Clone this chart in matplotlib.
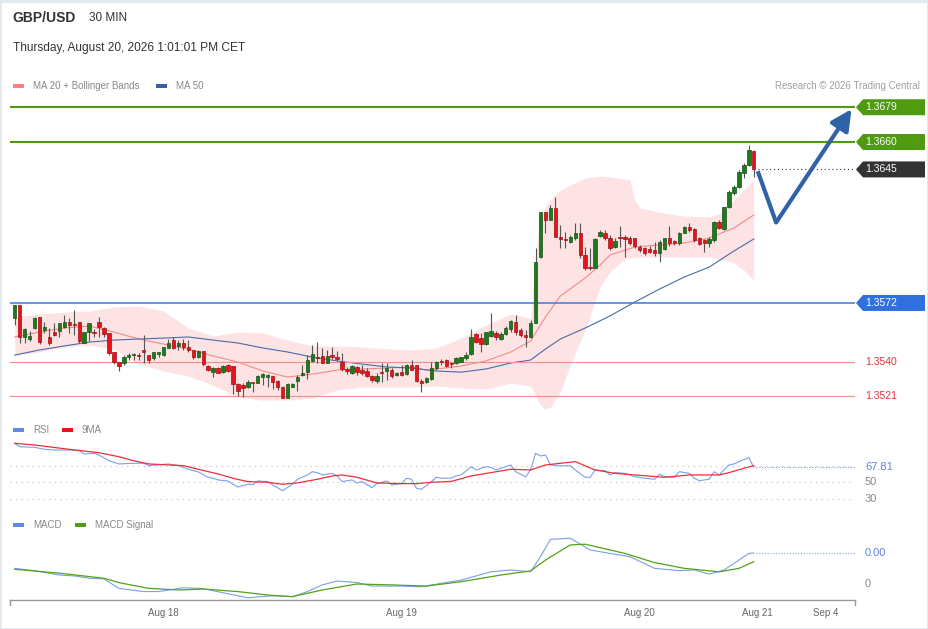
import numpy as np
import matplotlib
matplotlib.use("Agg")
import matplotlib.pyplot as plt
from matplotlib.patches import Polygon, Rectangle
from matplotlib import transforms

plt.rcParams['font.family'] = ['Liberation Sans', 'DejaVu Sans']

# --- candles (30 min), index 0 .. 149
opens = [
    1.35637, 1.35709, 1.35534, 1.35523, 1.35583, 1.35643, 1.35572, 1.35534, 1.35561, 1.35567,
    1.35589, 1.35616, 1.35605, 1.35616, 1.35501, 1.35561, 1.35561, 1.35616, 1.35583, 1.35556,
    1.35452, 1.35397, 1.35392, 1.35424, 1.35435, 1.35435, 1.35463, 1.35435, 1.35419, 1.35441,
    1.35435, 1.35474, 1.35517, 1.35485, 1.35501, 1.35479, 1.35463, 1.35424, 1.35457, 1.35375,
    1.35342, 1.35364, 1.35342, 1.35381, 1.35375, 1.35277, 1.35271, 1.35260, 1.35288, 1.35282,
    1.35315, 1.35315, 1.35320, 1.35293, 1.35260, 1.35200, 1.35260, 1.35293, 1.35326, 1.35342,
    1.35403, 1.35424, 1.35430, 1.35392, 1.35435, 1.35424, 1.35397, 1.35359, 1.35337, 1.35370,
    1.35353, 1.35348, 1.35320, 1.35293, 1.35342, 1.35348, 1.35353, 1.35326, 1.35342, 1.35331,
    1.35381, 1.35381, 1.35293, 1.35288, 1.35304, 1.35364, 1.35403, 1.35408, 1.35392, 1.35392,
    1.35397, 1.35419, 1.35441, 1.35550, 1.35528, 1.35495, 1.35539, 1.35556, 1.35523, 1.35550,
    1.35578, 1.35616, 1.35572, 1.35545, 1.35534, 1.35611, 1.35971, 1.36217, 1.36173, 1.36239,
    1.36081, 1.36070, 1.36053, 1.36075, 1.36103, 1.35982, 1.35916, 1.35911, 1.36086, 1.36103,
    1.36075, 1.36026, 1.36081, 1.36081, 1.36075, 1.36075, 1.36026, 1.36020, 1.36015, 1.36009,
    1.35993, 1.36015, 1.36075, 1.36059, 1.36048, 1.36103, 1.36135, 1.36124, 1.36075, 1.36064,
    1.36048, 1.36064, 1.36162, 1.36124, 1.36245, 1.36321, 1.36354, 1.36430, 1.36474, 1.36551,
]
highs = [
    1.35709, 1.35709, 1.35583, 1.35567, 1.35643, 1.35643, 1.35616, 1.35583, 1.35611, 1.35611,
    1.35654, 1.35637, 1.35681, 1.35616, 1.35561, 1.35611, 1.35578, 1.35643, 1.35589, 1.35556,
    1.35452, 1.35397, 1.35435, 1.35446, 1.35446, 1.35446, 1.35545, 1.35435, 1.35452, 1.35452,
    1.35479, 1.35523, 1.35534, 1.35517, 1.35523, 1.35517, 1.35463, 1.35463, 1.35457, 1.35381,
    1.35370, 1.35370, 1.35381, 1.35386, 1.35375, 1.35282, 1.35282, 1.35299, 1.35288, 1.35326,
    1.35337, 1.35331, 1.35320, 1.35299, 1.35266, 1.35282, 1.35282, 1.35326, 1.35381, 1.35435,
    1.35490, 1.35506, 1.35474, 1.35463, 1.35479, 1.35457, 1.35446, 1.35370, 1.35381, 1.35375,
    1.35381, 1.35364, 1.35326, 1.35337, 1.35392, 1.35392, 1.35364, 1.35342, 1.35381, 1.35386,
    1.35408, 1.35381, 1.35304, 1.35315, 1.35397, 1.35403, 1.35413, 1.35413, 1.35397, 1.35424,
    1.35424, 1.35452, 1.35578, 1.35556, 1.35556, 1.35561, 1.35665, 1.35567, 1.35561, 1.35594,
    1.35627, 1.35654, 1.35583, 1.35572, 1.35627, 1.36020, 1.36217, 1.36217, 1.36256, 1.36299,
    1.36146, 1.36108, 1.36092, 1.36157, 1.36157, 1.36026, 1.36020, 1.36075, 1.36119, 1.36119,
    1.36092, 1.36075, 1.36141, 1.36092, 1.36086, 1.36075, 1.36037, 1.36026, 1.36031, 1.36053,
    1.36064, 1.36075, 1.36141, 1.36064, 1.36108, 1.36141, 1.36157, 1.36130, 1.36081, 1.36070,
    1.36081, 1.36168, 1.36173, 1.36245, 1.36337, 1.36365, 1.36447, 1.36485, 1.36583, 1.36556,
]
lows = [
    1.35600, 1.35501, 1.35501, 1.35512, 1.35578, 1.35495, 1.35556, 1.35490, 1.35539, 1.35534,
    1.35583, 1.35556, 1.35545, 1.35501, 1.35501, 1.35512, 1.35534, 1.35534, 1.35534, 1.35435,
    1.35386, 1.35348, 1.35381, 1.35408, 1.35408, 1.35408, 1.35392, 1.35392, 1.35408, 1.35424,
    1.35430, 1.35474, 1.35468, 1.35463, 1.35463, 1.35452, 1.35413, 1.35419, 1.35375, 1.35348,
    1.35315, 1.35337, 1.35337, 1.35342, 1.35222, 1.35211, 1.35205, 1.35255, 1.35233, 1.35282,
    1.35271, 1.35260, 1.35249, 1.35244, 1.35200, 1.35200, 1.35260, 1.35238, 1.35320, 1.35304,
    1.35397, 1.35392, 1.35392, 1.35392, 1.35413, 1.35403, 1.35348, 1.35331, 1.35331, 1.35326,
    1.35326, 1.35315, 1.35288, 1.35282, 1.35288, 1.35299, 1.35310, 1.35320, 1.35320, 1.35326,
    1.35353, 1.35288, 1.35233, 1.35282, 1.35299, 1.35353, 1.35381, 1.35370, 1.35364, 1.35386,
    1.35397, 1.35408, 1.35435, 1.35501, 1.35452, 1.35490, 1.35534, 1.35517, 1.35517, 1.35545,
    1.35561, 1.35545, 1.35534, 1.35479, 1.35528, 1.35611, 1.35966, 1.36103, 1.36173, 1.36081,
    1.36020, 1.36020, 1.36048, 1.36064, 1.35966, 1.35900, 1.35900, 1.35911, 1.36081, 1.36064,
    1.36009, 1.36020, 1.36026, 1.35971, 1.36037, 1.36020, 1.35998, 1.35982, 1.35993, 1.35976,
    1.35944, 1.36009, 1.36031, 1.36037, 1.36037, 1.36103, 1.36108, 1.36053, 1.36037, 1.35998,
    1.36026, 1.36053, 1.36124, 1.36119, 1.36239, 1.36310, 1.36348, 1.36403, 1.36468, 1.36409,
]
closes = [
    1.35709, 1.35534, 1.35578, 1.35539, 1.35637, 1.35506, 1.35589, 1.35501, 1.35545, 1.35611,
    1.35616, 1.35600, 1.35600, 1.35512, 1.35561, 1.35611, 1.35556, 1.35589, 1.35550, 1.35446,
    1.35397, 1.35375, 1.35424, 1.35435, 1.35441, 1.35430, 1.35452, 1.35408, 1.35452, 1.35452,
    1.35479, 1.35501, 1.35474, 1.35501, 1.35479, 1.35463, 1.35424, 1.35457, 1.35386, 1.35353,
    1.35364, 1.35337, 1.35375, 1.35348, 1.35277, 1.35238, 1.35255, 1.35288, 1.35282, 1.35320,
    1.35331, 1.35326, 1.35288, 1.35260, 1.35200, 1.35277, 1.35277, 1.35315, 1.35337, 1.35408,
    1.35441, 1.35419, 1.35392, 1.35430, 1.35424, 1.35413, 1.35359, 1.35348, 1.35375, 1.35342,
    1.35337, 1.35320, 1.35299, 1.35320, 1.35337, 1.35364, 1.35320, 1.35337, 1.35326, 1.35381,
    1.35353, 1.35293, 1.35282, 1.35310, 1.35364, 1.35397, 1.35397, 1.35375, 1.35386, 1.35419,
    1.35424, 1.35435, 1.35534, 1.35506, 1.35495, 1.35561, 1.35567, 1.35534, 1.35550, 1.35583,
    1.35622, 1.35561, 1.35545, 1.35534, 1.35611, 1.35944, 1.36217, 1.36173, 1.36239, 1.36081,
    1.36070, 1.36064, 1.36081, 1.36103, 1.35982, 1.35911, 1.35911, 1.36070, 1.36108, 1.36075,
    1.36020, 1.36059, 1.36075, 1.36070, 1.36048, 1.36031, 1.36009, 1.35993, 1.35998, 1.35993,
    1.36053, 1.36075, 1.36048, 1.36048, 1.36103, 1.36135, 1.36119, 1.36064, 1.36042, 1.36048,
    1.36070, 1.36162, 1.36130, 1.36245, 1.36326, 1.36354, 1.36436, 1.36474, 1.36556, 1.36450,
]

# --- Bollinger bands (MA 20)
bb_idx = [0, 5, 10, 15, 20, 25, 30, 35, 40, 45, 50, 55, 60, 65, 70, 75, 80, 85, 90, 95,
          100, 104, 105, 106, 107, 108, 110, 112, 115, 118, 120, 123, 124, 125, 126, 130,
          135, 140, 143, 145, 147, 149]
bb_upper = [1.35643, 1.35659, 1.35670, 1.35676, 1.35698, 1.35703, 1.35676, 1.35583, 1.35539, 1.35561,
            1.35556, 1.35517, 1.35485, 1.35485, 1.35479, 1.35468, 1.35463, 1.35474, 1.35528, 1.35600,
            1.35659, 1.35637, 1.35982, 1.36201, 1.36250, 1.36283, 1.36337, 1.36365, 1.36403, 1.36414,
            1.36409, 1.36398, 1.36392, 1.36283, 1.36239, 1.36217, 1.36195, 1.36190, 1.36217, 1.36283,
            1.36337, 1.36392]
bb_lower = [1.35435, 1.35452, 1.35479, 1.35490, 1.35468, 1.35386, 1.35348, 1.35320, 1.35271, 1.35205,
            1.35189, 1.35189, 1.35200, 1.35244, 1.35260, 1.35260, 1.35260, 1.35266, 1.35255, 1.35249,
            1.35282, 1.35266, 1.35216, 1.35162, 1.35135, 1.35151, 1.35233, 1.35381, 1.35572, 1.35807,
            1.35889, 1.35960, 1.35966, 1.35971, 1.35971, 1.35971, 1.35971, 1.35971, 1.35955, 1.35938,
            1.35900, 1.35845]

ma20_idx = [0, 5, 10, 15, 20, 25, 30, 35, 40, 45, 50, 55, 60, 65, 70, 75, 80, 83, 85, 90, 95,
            100, 104, 107, 110, 115, 118, 120, 125, 130, 135, 140, 145, 149]
ma20 = [1.35534, 1.35561, 1.35583, 1.35594, 1.35561, 1.35523, 1.35495, 1.35468, 1.35430, 1.35397,
        1.35348, 1.35315, 1.35331, 1.35353, 1.35359, 1.35364, 1.35370, 1.35353, 1.35359, 1.35375,
        1.35403, 1.35452, 1.35512, 1.35643, 1.35758, 1.35856, 1.35927, 1.35982, 1.36026, 1.36037,
        1.36048, 1.36075, 1.36130, 1.36201]

ma50_idx = [0, 5, 10, 15, 20, 25, 30, 35, 40, 45, 50, 55, 60, 65, 70, 75, 80, 85, 90, 95,
            100, 104, 107, 110, 115, 120, 125, 130, 135, 140, 145, 149]
ma50 = [1.35435, 1.35463, 1.35485, 1.35506, 1.35517, 1.35523, 1.35528, 1.35534, 1.35517, 1.35501,
        1.35474, 1.35452, 1.35424, 1.35403, 1.35386, 1.35370, 1.35364, 1.35348, 1.35342, 1.35359,
        1.35392, 1.35408, 1.35468, 1.35523, 1.35583, 1.35649, 1.35725, 1.35796, 1.35862, 1.35916,
        1.36004, 1.36070]

# --- key levels
resist_levels = [1.3679, 1.3660]
last_price = 1.3645
pivot_level = 1.3572
support_levels = [1.3540, 1.3521]

# --- forecast path (candle index, price)
path_idx = [149.8, 153.5, 168.7]
path_price = [1.3644, 1.3616, 1.3678]

# --- RSI and its 9 period MA
rsi_idx = [0, 1, 4, 6, 8, 11, 13, 14, 16, 17, 19, 21, 24, 26, 27, 31, 33, 35, 37, 39,
           40, 41, 43, 44, 45, 47, 48, 49, 51, 52, 54, 56, 57, 59, 60, 61, 62, 64, 65, 66,
           68, 69, 70, 72, 73, 75, 76, 78, 79, 80, 81, 82, 84, 85, 86, 88, 89, 90, 92, 93,
           95, 96, 97, 98, 100, 101, 103, 104, 105, 106, 107, 108, 110, 112, 113, 115, 116, 117, 119, 120,
           121, 123, 125, 127, 129, 130, 131, 133, 134, 136, 137, 138, 140, 141, 142, 144, 145, 146, 148, 149]
rsi = [96.8, 92.7, 92.0, 89.6, 88.8, 88.8, 88.0, 84.0, 84.8, 82.8, 75.9, 72.0, 72.8, 72.8, 70.0, 72.0, 70.0, 65.6, 62.5, 56.0,
       54.8, 52.8, 51.6, 47.6, 44.4, 47.6, 47.2, 51.6, 50.8, 46.8, 40.0, 47.6, 53.6, 58.8, 62.7, 61.6, 58.8, 60.8, 57.6, 50.8,
       52.8, 49.2, 50.8, 43.6, 48.4, 51.6, 46.8, 48.4, 54.8, 53.6, 42.8, 41.6, 50.8, 56.0, 54.8, 55.0, 57.6, 58.8, 68.7, 64.8,
       68.7, 68.0, 64.8, 66.8, 70.8, 62.7, 56.7, 64.8, 84.8, 81.6, 82.8, 70.8, 69.6, 70.0, 64.8, 56.0, 56.0, 64.8, 64.0, 58.8,
       61.6, 60.8, 56.7, 54.8, 53.6, 59.6, 56.7, 56.0, 62.7, 60.8, 54.8, 52.0, 53.6, 62.7, 58.8, 70.8, 72.0, 74.8, 79.6, 67.81]
rsi_ma_idx = [0, 4, 11, 17, 21, 24, 27, 34, 37, 41, 44, 47, 51, 54, 57, 61, 64, 66, 69, 73,
              78, 81, 84, 88, 92, 96, 100, 104, 107, 113, 117, 121, 125, 131, 136, 142, 144, 147, 149]
rsi_ma = [96.8, 94.8, 89.6, 85.5, 80.7, 75.9, 72.0, 70.0, 65.6, 60.0, 54.8, 50.8, 50.0, 47.6, 49.2, 53.6, 57.6, 58.8, 56.0, 49.2,
          48.4, 48.4, 50.0, 51.0, 57.6, 61.6, 65.6, 64.8, 70.8, 74.8, 64.8, 60.8, 58.8, 56.0, 58.8, 58.8, 61.6, 66.8, 70.0]
rsi_levels = [70, 50, 30]

# --- MACD and signal
macd_idx = [0, 4, 9, 12, 15, 18, 21, 26, 29, 34, 38, 42, 47, 52, 56, 59, 62, 65, 69, 72,
            78, 82, 86, 90, 96, 100, 104, 106, 108, 112, 116, 120, 124, 129, 134, 137, 140, 143, 148, 149]
macd = [0.00068, 0.00058, 0.00039, 0.00035, 0.00025, 0.00022, -0.00019, -0.00033, -0.00033, -0.00016,
        -0.00020, -0.00038, -0.00060, -0.00051, -0.00055, -0.00033, -0.00004, 0.00013, 0.00006, -0.00009,
        -0.00009, -0.00012, 0.00003, 0.00017, 0.00053, 0.00061, 0.00053, 0.00119, 0.00194, 0.00199,
        0.00148, 0.00133, 0.00119, 0.00068, 0.00058, 0.00061, 0.00043, 0.00061, 0.00133, 0.00135]
signal_idx = [0, 9, 18, 21, 27, 33, 38, 45, 51, 56, 62, 69, 76, 83, 90, 98, 104, 107, 112, 115,
              123, 129, 135, 142, 146, 149]
signal = [0.00064, 0.00047, 0.00025, 0.00006, -0.00019, -0.00026, -0.00022, -0.00033, -0.00048, -0.00055,
          -0.00026, 0.00000, -0.00004, -0.00009, 0.00010, 0.00039, 0.00057, 0.00104, 0.00170, 0.00173,
          0.00133, 0.00093, 0.00068, 0.00053, 0.00068, 0.00097]

date_ticks = [30, 78, 126, 149.7, 163.4]
date_labels = ['Aug 18', 'Aug 19', 'Aug 20', 'Aug 21', 'Sep 4']

# ---------------------------------------------------------------------------
W, H = 929, 629
fig = plt.figure(figsize=(W / 100, H / 100), dpi=100)
fig.patch.set_facecolor('white')


def px_axes(x0, y0, x1, y1):
    a = fig.add_axes([x0 / W, 1 - y1 / H, (x1 - x0) / W, (y1 - y0) / H])
    a.set_facecolor('none')
    for s in a.spines.values():
        s.set_visible(False)
    a.set_xticks([])
    a.set_yticks([])
    a.set_xlim(-0.95, 169.4)
    return a


ax = px_axes(10, 95, 855, 408)
ax_rsi = px_axes(10, 438, 855, 506)
ax_macd = px_axes(10, 532, 855, 600)
ax.set_ylim(1.351458, 1.368569)
ax_rsi.set_ylim(21.5, 103.2)
ax_macd.set_ylim(-0.000696, 0.002261)

ov = fig.add_axes([0, 0, 1, 1])
ov.set_xlim(0, W)
ov.set_ylim(H, 0)
ov.axis('off')
ov.set_zorder(5)

# --- main panel
ax.fill_between(bb_idx, bb_lower, bb_upper, color='#fde3e3', lw=0, zorder=1)
ax.plot(ma20_idx, ma20, color='#f88a8a', lw=0.8, zorder=2)
ax.plot(ma50_idx, ma50, color='#4a6ca8', lw=0.8, zorder=2)

for lv in resist_levels:
    ax.axhline(lv, color='#4f9a10', lw=1.5, zorder=2)
ax.axhline(pivot_level, color='#3c78e0', lw=1.1, zorder=2)
for lv in support_levels:
    ax.axhline(lv, color='#f29090', lw=0.8, zorder=2)
ax.hlines(last_price, 149.8, 169.4, color='#333333', lw=0.8, ls=(0, (1, 2.5)), zorder=2)

x = np.arange(len(closes))
o = np.array(opens)
c = np.array(closes)
up = c >= o
ax.vlines(x, lows, highs, color='#555555', lw=0.8, zorder=3)
body = np.maximum(np.abs(c - o), 0.00002)
ax.bar(x[up], body[up], bottom=o[up], width=0.68, color='#1d7a1d',
       edgecolor='#135213', lw=0.5, zorder=4)
ax.bar(x[~up], body[~up], bottom=c[~up], width=0.68, color='#e8141c',
       edgecolor='#a30e12', lw=0.5, zorder=4)

# forecast arrow
ax.plot(path_idx[:2], path_price[:2], color='#2f62a6', lw=3, solid_capstyle='butt', zorder=6)
ax.annotate('', xy=(path_idx[2], path_price[2]), xytext=(path_idx[1], path_price[1]),
            arrowprops=dict(arrowstyle='-|>,head_length=0.9,head_width=0.45', lw=3,
                            color='#2f62a6', shrinkA=0, shrinkB=0, mutation_scale=14),
            zorder=6, annotation_clip=False)

# --- RSI panel
for lv in rsi_levels:
    ax_rsi.axhline(lv, color='#bdbdbd', lw=0.8, ls=(0, (1, 4)))
ax_rsi.plot(rsi_idx, rsi, color='#7d9ee9', lw=0.8)
ax_rsi.plot(rsi_ma_idx, rsi_ma, color='#e8303a', lw=0.9)
ax_rsi.hlines(rsi[-1], 149.5, 169.4, color='#7d9ee9', lw=0.8, ls=(0, (1, 1.5)))

# --- MACD panel
ax_macd.plot(macd_idx, macd, color='#7d9ee9', lw=0.8)
ax_macd.plot(signal_idx, signal, color='#52a318', lw=0.9)
ax_macd.hlines(macd[-1], 149.5, 169.4, color='#7d9ee9', lw=0.8, ls=(0, (1, 1.5)))
ax_macd.spines['bottom'].set_visible(True)
ax_macd.spines['bottom'].set_color('#999999')
ax_macd.spines['bottom'].set_linewidth(1)
ax_macd.set_xticks(date_ticks)
ax_macd.set_xticklabels(date_labels)
ax_macd.tick_params(axis='x', length=0, pad=6, labelsize=7, labelcolor='#666666')
for xe in (0, 1):
    ax_macd.plot([xe, xe], [0, -0.075], transform=ax_macd.transAxes, color='#999999',
                 lw=1, clip_on=False)


# --- right hand value tags
def tag(axis, value, text, fc=None, tc='white', size=7.5):
    tr = transforms.blended_transform_factory(ov.transData, axis.transData)
    if fc is not None:
        y0, y1 = axis.get_ylim()
        h = 8.0 * (y1 - y0) / (axis.get_position().height * H)
        poly = Polygon([(856, value), (863, value + h), (925, value + h),
                        (925, value - h), (863, value - h)], closed=True,
                       transform=tr, fc=fc, ec='none', clip_on=False)
        ov.add_patch(poly)
    return ov.text(865, value, text, transform=tr, color=tc, va='center', ha='left',
                   fontsize=size)


tag(ax, resist_levels[0], f'{resist_levels[0]:.4f}', '#4f9a10')
tag(ax, resist_levels[1], f'{resist_levels[1]:.4f}', '#4f9a10')
tag(ax, last_price, f'{last_price:.4f}', '#333333')
tag(ax, pivot_level, f'{pivot_level:.4f}', '#2f6fe0')
for lv in support_levels:
    tag(ax, lv, f'{lv:.4f}', tc='#e8303a')

tag(ax_rsi, rsi[-1], f'{rsi[-1]:.2f}', tc='#5f85e0', size=8)
for lv in rsi_levels[1:]:
    tag(ax_rsi, lv, str(lv), tc='#888888', size=8)

tag(ax_macd, macd[-1], f'{macd[-1]:.2f}', tc='#5f85e0', size=8)
tag(ax_macd, 0.0, '0', tc='#888888', size=8)

# --- header and legends
ov.text(12, 18, 'GBP/USD', fontsize=10, fontweight='bold', color='#333333', va='center')
ov.text(89, 18, '30 MIN', fontsize=8.5, color='#333333', va='center')
ov.text(13, 48, 'Thursday, August 20, 2026 1:01:01 PM CET', fontsize=8.6,
        color='#333333', va='center')
ov.text(920, 86, 'Research \u00a9 2026 Trading Central', fontsize=7, color='#a0a0a0',
        va='center', ha='right')


def legend_item(xp, yp, color, label):
    ov.add_patch(Rectangle((xp, yp - 2), 11, 4, fc=color, ec='none'))
    ov.text(xp + 20, yp, label, fontsize=7, color='#888888', va='center')


legend_item(13, 86, '#ff7f7f', 'MA 20 + Bollinger Bands')
legend_item(156, 86, '#3a5f9f', 'MA 50')
legend_item(13, 430, '#5f8ae6', 'RSI')
legend_item(62, 430, '#e8141c', '9MA')
legend_item(13, 525, '#5f8ae6', 'MACD')
legend_item(75, 525, '#49a010', 'MACD Signal')

ov.add_patch(Rectangle((0.5, 0.5), W - 1, H - 1, fill=False, ec='#e2e8ec', lw=2))

fig.savefig('out.png', dpi=100, facecolor='white')
